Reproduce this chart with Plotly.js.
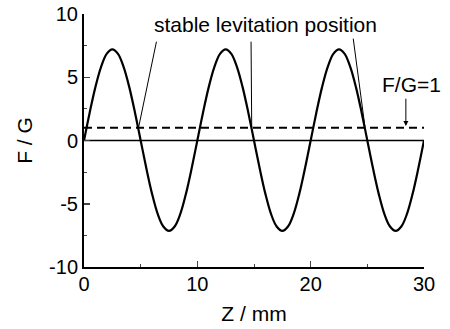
<!DOCTYPE html>
<html>
<head>
<meta charset="utf-8">
<script src="https://cdn.plot.ly/plotly-3.0.1.min.js"></script>
<style>html,body{margin:0;padding:0;background:#fff;}#chart{width:450px;height:329px;}</style>
</head>
<body>
<div id="chart"></div>
<script>
// Z positions (mm) and F/G values
const zValues = [0,0.5,1,1.5,2,2.5,3,3.5,4,4.5,5,5.5,6,6.5,7,7.5,8,8.5,9,9.5,10,
  10.5,11,11.5,12,12.5,13,13.5,14,14.5,15,15.5,16,16.5,17,17.5,18,18.5,19,19.5,20,
  20.5,21,21.5,22,22.5,23,23.5,24,24.5,25,25.5,26,26.5,27,27.5,28,28.5,29,29.5,30];
const fgValues = [0,2.2,4.2,5.8,6.85,7.2,6.85,5.8,4.2,2.2,0,-2.2,-4.2,-5.8,-6.8,-7.15,-6.8,-5.8,-4.2,-2.2,0,
  2.2,4.2,5.8,6.85,7.2,6.85,5.8,4.2,2.2,0,-2.2,-4.2,-5.8,-6.8,-7.15,-6.8,-5.8,-4.2,-2.2,0,
  2.2,4.2,5.8,6.85,7.2,6.85,5.8,4.2,2.2,0,-2.2,-4.2,-5.8,-6.8,-7.15,-6.8,-5.8,-4.2,-2.2,0];
const zeroLineZ = [0, 30];
const zeroLineFG = [0, 0];
const levelZ = [0, 30];
const levelFG = [1, 1];
const xTickVals = [0, 10, 20, 30];
const xTickText = ["0", "10", "20", "30"];
const yTickVals = [-10, -5, 0, 5, 10];
const yTickText = ["-10", "-5", "0", "5", "10"];
const stableLabel = "stable levitation position";
const levelLabel = "F/G=1";

const font = "Liberation Sans, Arial, sans-serif";

const traces = [
  {x: zeroLineZ, y: zeroLineFG, mode: 'lines', line: {color: '#000', width: 1.5}, hoverinfo: 'skip'},
  {x: levelZ, y: levelFG, mode: 'lines', line: {color: '#000', width: 2, dash: '8px,5px'}, hoverinfo: 'skip'},
  {x: zValues, y: fgValues, mode: 'lines', line: {color: '#000', width: 2.2, shape: 'spline', smoothing: 1}, hoverinfo: 'skip'}
];

const pointer = (x, y, ax, ay, head) => ({
  x: x, y: y, ax: ax, ay: ay, axref: 'x', ayref: 'y', xref: 'x', yref: 'y',
  text: '', showarrow: true, arrowhead: head, arrowsize: 1, arrowwidth: 1, arrowcolor: '#000', standoff: 0
});

const layout = {
  width: 450, height: 329,
  margin: {l: 84, r: 26, t: 14, b: 62},
  paper_bgcolor: '#fff', plot_bgcolor: '#fff',
  showlegend: false,
  font: {family: font, size: 20, color: '#000'},
  xaxis: {
    range: [0, 30], tickvals: xTickVals, ticktext: xTickText, ticks: 'inside', ticklen: 6, tickwidth: 1.5,
    minor: {dtick: 5, ticks: 'inside', ticklen: 3, tickwidth: 1},
    showline: true, linewidth: 2, linecolor: '#000', showgrid: false, zeroline: false,
    tickfont: {size: 20}, ticklabelstandoff: -2,
    title: {text: 'Z / mm', font: {size: 21}, standoff: 12}
  },
  yaxis: {
    range: [-10, 10], tickvals: yTickVals, ticktext: yTickText, ticks: 'inside', ticklen: 6, tickwidth: 1.5,
    minor: {dtick: 2.5, ticks: 'inside', ticklen: 3, tickwidth: 1},
    showline: true, linewidth: 2, linecolor: '#000', showgrid: false, zeroline: false,
    tickfont: {size: 20},
    title: {text: 'F / G', font: {size: 21}, standoff: 11}
  },
  annotations: [
    {x: 16.0, y: 9.2, xref: 'x', yref: 'y', text: stableLabel, showarrow: false, font: {size: 21}},
    {x: 28.9, y: 4.4, xref: 'x', yref: 'y', text: levelLabel, showarrow: false, font: {size: 21}},
    pointer(4.81, 1.0, 6.42, 7.93, 0),
    pointer(14.8, 1.0, 14.74, 7.93, 0),
    pointer(24.8, 1.0, 23.74, 8.17, 0),
    pointer(28.4, 1.15, 28.4, 3.42, 2)
  ]
};

Plotly.newPlot('chart', traces, layout, {staticPlot: true, displayModeBar: false});
</script>
</body>
</html>
